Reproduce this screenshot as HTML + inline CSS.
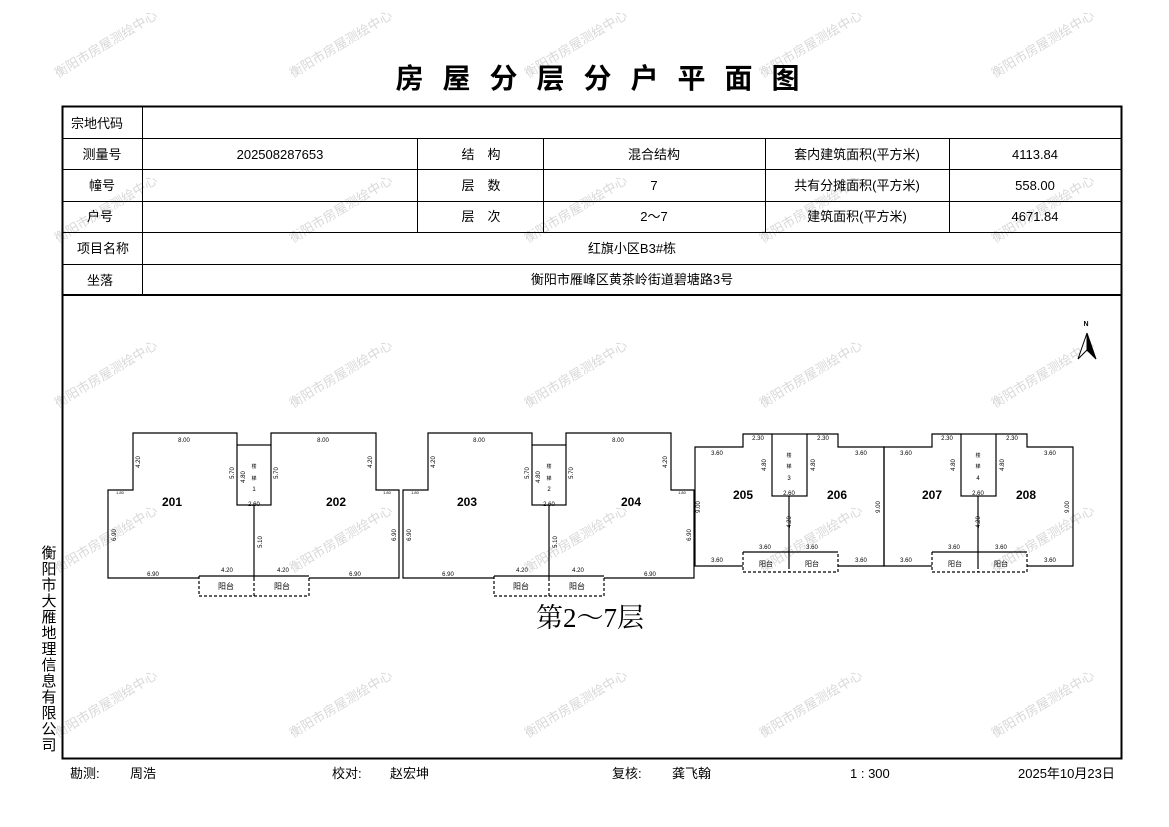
<!DOCTYPE html>
<html><head><meta charset="utf-8"><style>
html,body{margin:0;padding:0;background:#fff;}
svg{display:block;}
text{font-family:"Liberation Sans","Noto Sans CJK SC",sans-serif;}
.t{font-size:13px;fill:#000;text-anchor:middle;}
.d{font-size:6px;fill:#000;text-anchor:middle;font-family:"Liberation Mono",monospace;}
.r{font-size:12px;font-weight:bold;text-anchor:middle;}
.wm{font-size:13px;fill:#d8d8d8;}
</style></head><body>
<svg width="1169" height="827" viewBox="0 0 1169 827" xmlns="http://www.w3.org/2000/svg">
<g class="wm">
<text transform="translate(58,78) rotate(-31)">衡阳市房屋测绘中心</text>
<text transform="translate(293,78) rotate(-31)">衡阳市房屋测绘中心</text>
<text transform="translate(528,78) rotate(-31)">衡阳市房屋测绘中心</text>
<text transform="translate(763,78) rotate(-31)">衡阳市房屋测绘中心</text>
<text transform="translate(995,78) rotate(-31)">衡阳市房屋测绘中心</text>
<text transform="translate(58,243) rotate(-31)">衡阳市房屋测绘中心</text>
<text transform="translate(293,243) rotate(-31)">衡阳市房屋测绘中心</text>
<text transform="translate(528,243) rotate(-31)">衡阳市房屋测绘中心</text>
<text transform="translate(763,243) rotate(-31)">衡阳市房屋测绘中心</text>
<text transform="translate(995,243) rotate(-31)">衡阳市房屋测绘中心</text>
<text transform="translate(58,408) rotate(-31)">衡阳市房屋测绘中心</text>
<text transform="translate(293,408) rotate(-31)">衡阳市房屋测绘中心</text>
<text transform="translate(528,408) rotate(-31)">衡阳市房屋测绘中心</text>
<text transform="translate(763,408) rotate(-31)">衡阳市房屋测绘中心</text>
<text transform="translate(995,408) rotate(-31)">衡阳市房屋测绘中心</text>
<text transform="translate(58,573) rotate(-31)">衡阳市房屋测绘中心</text>
<text transform="translate(293,573) rotate(-31)">衡阳市房屋测绘中心</text>
<text transform="translate(528,573) rotate(-31)">衡阳市房屋测绘中心</text>
<text transform="translate(763,573) rotate(-31)">衡阳市房屋测绘中心</text>
<text transform="translate(995,573) rotate(-31)">衡阳市房屋测绘中心</text>
<text transform="translate(58,738) rotate(-31)">衡阳市房屋测绘中心</text>
<text transform="translate(293,738) rotate(-31)">衡阳市房屋测绘中心</text>
<text transform="translate(528,738) rotate(-31)">衡阳市房屋测绘中心</text>
<text transform="translate(763,738) rotate(-31)">衡阳市房屋测绘中心</text>
<text transform="translate(995,738) rotate(-31)">衡阳市房屋测绘中心</text>
</g>
<text x="607" y="88" text-anchor="middle" style="font-size:28px;font-weight:bold;letter-spacing:19px;font-family:'Noto Sans CJK SC',sans-serif">房屋分层分户平面图</text>
<g stroke="#000" fill="none">
<rect x="62.5" y="106.5" width="1059" height="652" stroke-width="2"/>
<line x1="62" y1="295" x2="1122" y2="295" stroke-width="2"/>
<g stroke-width="1">
<line x1="62" y1="138.5" x2="1122" y2="138.5"/>
<line x1="62" y1="169.5" x2="1122" y2="169.5"/>
<line x1="62" y1="201.5" x2="1122" y2="201.5"/>
<line x1="62" y1="232.5" x2="1122" y2="232.5"/>
<line x1="62" y1="264.5" x2="1122" y2="264.5"/>
<line x1="142.5" y1="106" x2="142.5" y2="295"/>
<line x1="417.5" y1="138" x2="417.5" y2="232"/>
<line x1="543.5" y1="138" x2="543.5" y2="232"/>
<line x1="765.5" y1="138" x2="765.5" y2="232"/>
<line x1="949.5" y1="138" x2="949.5" y2="232"/>
</g></g>
<g class="t">
<text x="97" y="128">宗地代码</text>
<text x="102" y="159">测量号</text><text x="280" y="159">202508287653</text>
<text x="481" y="159">结　构</text><text x="654" y="159">混合结构</text>
<text x="857" y="159">套内建筑面积(平方米)</text><text x="1035" y="159">4113.84</text>
<text x="102" y="190">幢号</text>
<text x="481" y="190">层　数</text><text x="654" y="190">7</text>
<text x="857" y="190">共有分摊面积(平方米)</text><text x="1035" y="190">558.00</text>
<text x="100" y="221">户号</text>
<text x="481" y="221">层　次</text><text x="654" y="221">2～7</text>
<text x="857" y="221">建筑面积(平方米)</text><text x="1035" y="221">4671.84</text>
<text x="103" y="253">项目名称</text><text x="632" y="253">红旗小区B3#栋</text>
<text x="100" y="285">坐落</text><text x="632" y="284">衡阳市雁峰区黄茶岭街道碧塘路3号</text>
</g>
<text x="1086" y="326" style="font-size:7px;font-weight:bold" text-anchor="middle">N</text>
<polygon points="1087,333 1078,359 1087,350" fill="#fff" stroke="#000"/>
<polygon points="1087,333 1096,359 1087,350" fill="#000" stroke="#000"/>
<g>
<g stroke="#000" fill="none" stroke-width="1.2">
<path d="M237,445 L237,433 L133,433 L133,490 L108,490 L108,578 L199,578"/>
<path d="M271,445 L271,433 L376,433 L376,490 L399,490 L399,578 L309,578"/>
<rect x="237" y="445" width="34" height="60"/>
<line x1="254" y1="505" x2="254" y2="578"/>
<line x1="199" y1="576" x2="309" y2="576"/>
<path d="M199,576 L199,596 L309,596 L309,576 M254,578 L254,596" stroke-dasharray="3,2"/>
</g>
<g class="d">
<text x="184" y="442">8.00</text><text x="323" y="442">8.00</text>
<text transform="translate(140,462) rotate(-90)">4.20</text>
<text transform="translate(372,462) rotate(-90)">4.20</text>
<text x="120" y="494" style="font-size:4px">1.80</text><text x="387" y="494" style="font-size:4px">1.80</text>
<text transform="translate(116,535) rotate(-90)">6.90</text>
<text transform="translate(396,535) rotate(-90)">6.90</text>
<text x="153" y="576">6.90</text><text x="355" y="576">6.90</text>
<text x="227" y="572">4.20</text><text x="283" y="572">4.20</text>
<text transform="translate(234,473) rotate(-90)">5.70</text>
<text transform="translate(278,473) rotate(-90)">5.70</text>
<text transform="translate(245,477) rotate(-90)">4.80</text>
<text x="254" y="468" style="font-size:5px">楼</text><text x="254" y="480" style="font-size:5px">梯</text><text x="254" y="491">1</text>
<text x="254" y="506">2.60</text>
<text transform="translate(262,542) rotate(-90)">5.10</text>
<text x="226" y="589" style="font-size:8px">阳台</text><text x="282" y="589" style="font-size:8px">阳台</text>
</g>
<text class="r" x="172" y="506">201</text><text class="r" x="336" y="506">202</text>
</g>
<g transform="translate(295,0)">
<g stroke="#000" fill="none" stroke-width="1.2">
<path d="M237,445 L237,433 L133,433 L133,490 L108,490 L108,578 L199,578"/>
<path d="M271,445 L271,433 L376,433 L376,490 L399,490 L399,578 L309,578"/>
<rect x="237" y="445" width="34" height="60"/>
<line x1="254" y1="505" x2="254" y2="578"/>
<line x1="199" y1="576" x2="309" y2="576"/>
<path d="M199,576 L199,596 L309,596 L309,576 M254,578 L254,596" stroke-dasharray="3,2"/>
</g>
<g class="d">
<text x="184" y="442">8.00</text><text x="323" y="442">8.00</text>
<text transform="translate(140,462) rotate(-90)">4.20</text>
<text transform="translate(372,462) rotate(-90)">4.20</text>
<text x="120" y="494" style="font-size:4px">1.80</text><text x="387" y="494" style="font-size:4px">1.80</text>
<text transform="translate(116,535) rotate(-90)">6.90</text>
<text transform="translate(396,535) rotate(-90)">6.90</text>
<text x="153" y="576">6.90</text><text x="355" y="576">6.90</text>
<text x="227" y="572">4.20</text><text x="283" y="572">4.20</text>
<text transform="translate(234,473) rotate(-90)">5.70</text>
<text transform="translate(278,473) rotate(-90)">5.70</text>
<text transform="translate(245,477) rotate(-90)">4.80</text>
<text x="254" y="468" style="font-size:5px">楼</text><text x="254" y="480" style="font-size:5px">梯</text><text x="254" y="491">2</text>
<text x="254" y="506">2.60</text>
<text transform="translate(262,542) rotate(-90)">5.10</text>
<text x="226" y="589" style="font-size:8px">阳台</text><text x="282" y="589" style="font-size:8px">阳台</text>
</g>
<text class="r" x="172" y="506">203</text><text class="r" x="336" y="506">204</text>
</g>
<g>
<g stroke="#000" fill="none" stroke-width="1.2">
<path d="M772,434 L743,434 L743,447 L695,447 L695,566 L743,566"/>
<path d="M807,434 L838,434 L838,447 L884,447 L884,566 L838,566"/>
<rect x="772" y="434" width="35" height="62"/>
<line x1="789" y1="496" x2="789" y2="566"/>
<line x1="743" y1="552" x2="838" y2="552"/>
<path d="M743,552 L743,572 L838,572 L838,552 M789,566 L789,572" stroke-dasharray="3,2"/>
</g>
<g class="d">
<text x="758" y="440">2.30</text><text x="823" y="440">2.30</text>
<text x="717" y="455">3.60</text><text x="861" y="455">3.60</text>
<text transform="translate(766,465) rotate(-90)">4.80</text>
<text transform="translate(815,465) rotate(-90)">4.80</text>
<text x="789" y="457" style="font-size:5px">楼</text><text x="789" y="468" style="font-size:5px">梯</text><text x="789" y="480">3</text>
<text x="789" y="495">2.60</text>
<text transform="translate(700,507) rotate(-90)">9.00</text>
<text transform="translate(880,507) rotate(-90)">9.00</text>
<text transform="translate(791,522) rotate(-90)">4.20</text>
<text x="765" y="549">3.60</text><text x="812" y="549">3.60</text>
<text x="717" y="562">3.60</text><text x="861" y="562">3.60</text>
<text x="766" y="566" style="font-size:7px">阳台</text><text x="812" y="566" style="font-size:7px">阳台</text>
</g>
<text class="r" x="743" y="499">205</text><text class="r" x="837" y="499">206</text>
</g>
<g transform="translate(189,0)">
<g stroke="#000" fill="none" stroke-width="1.2">
<path d="M772,434 L743,434 L743,447 L695,447 L695,566 L743,566"/>
<path d="M807,434 L838,434 L838,447 L884,447 L884,566 L838,566"/>
<rect x="772" y="434" width="35" height="62"/>
<line x1="789" y1="496" x2="789" y2="566"/>
<line x1="743" y1="552" x2="838" y2="552"/>
<path d="M743,552 L743,572 L838,572 L838,552 M789,566 L789,572" stroke-dasharray="3,2"/>
</g>
<g class="d">
<text x="758" y="440">2.30</text><text x="823" y="440">2.30</text>
<text x="717" y="455">3.60</text><text x="861" y="455">3.60</text>
<text transform="translate(766,465) rotate(-90)">4.80</text>
<text transform="translate(815,465) rotate(-90)">4.80</text>
<text x="789" y="457" style="font-size:5px">楼</text><text x="789" y="468" style="font-size:5px">梯</text><text x="789" y="480">4</text>
<text x="789" y="495">2.60</text>
<text transform="translate(880,507) rotate(-90)">9.00</text>
<text transform="translate(791,522) rotate(-90)">4.20</text>
<text x="765" y="549">3.60</text><text x="812" y="549">3.60</text>
<text x="717" y="562">3.60</text><text x="861" y="562">3.60</text>
<text x="766" y="566" style="font-size:7px">阳台</text><text x="812" y="566" style="font-size:7px">阳台</text>
</g>
<text class="r" x="743" y="499">207</text><text class="r" x="837" y="499">208</text>
</g>
<text x="590" y="627" text-anchor="middle" style="font-size:27px;font-family:'Liberation Serif','Noto Serif CJK SC',serif">第2～7层</text>
<g style="font-size:15px" text-anchor="middle">
<text x="49" y="558">衡</text><text x="49" y="574">阳</text><text x="49" y="590">市</text><text x="49" y="606">大</text><text x="49" y="622">雁</text><text x="49" y="638">地</text><text x="49" y="654">理</text><text x="49" y="670">信</text><text x="49" y="686">息</text><text x="49" y="702">有</text><text x="49" y="718">限</text><text x="49" y="734">公</text><text x="49" y="750">司</text>
</g>
<g style="font-size:13px">
<text x="70" y="778">勘测:</text><text x="130" y="778">周浩</text>
<text x="332" y="778">校对:</text><text x="390" y="778">赵宏坤</text>
<text x="612" y="778">复核:</text><text x="672" y="778">龚飞翰</text>
<text x="850" y="778">1 : 300</text>
<text x="1018" y="778">2025年10月23日</text>
</g>
</svg>
</body></html>
